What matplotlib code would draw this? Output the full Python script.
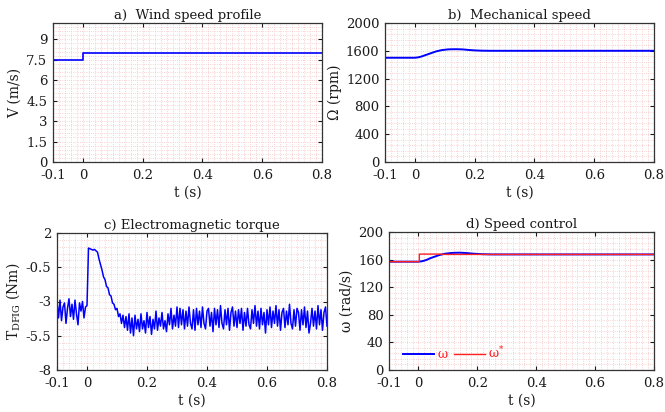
import numpy as np
import matplotlib
matplotlib.use("Agg")
import matplotlib.pyplot as plt
from matplotlib.ticker import MultipleLocator

plt.rcParams['font.family'] = ['DejaVu Serif']
plt.rcParams['mathtext.fontset'] = 'dejavuserif'
plt.rcParams['font.size'] = 9

# ---------------- data ----------------
# a) wind speed profile
t_wind = [-0.1, 0.0, 0.0, 0.8]
v_wind = [7.5, 7.5, 8.0, 8.0]

# b) mechanical speed (rpm)
t_mech = [-0.1, 0.0, 0.01, 0.02, 0.03, 0.04, 0.05, 0.06, 0.07, 0.08, 0.09,
          0.10, 0.11, 0.12, 0.14, 0.16, 0.18, 0.20, 0.22, 0.25, 0.30, 0.80]
omega_rpm = [1500, 1500, 1505, 1515, 1530, 1545, 1560, 1575, 1590, 1600, 1610,
             1615, 1620, 1622, 1623, 1620, 1612, 1606, 1602, 1600, 1600, 1600]

# c) electromagnetic torque (Nm), sampled every 5 ms from -0.1 s to 0.8 s
t_torque_start, t_torque_end, n_torque = -0.1, 0.8, 181
torque = [
    -3.0, -4.2, -2.9, -4.4, -3.4, -3.1, -4.6, -3.5, -2.8, -4.1,
    -3.2, -4.3, -2.9, -3.9, -4.7, -3.1, -3.7, -3.0, -4.2, -3.4,
    -3.3,
    0.9, 0.85, 0.8, 0.75, 0.8, 0.7, 0.6,
    0.1, -0.3, -0.7, -1.2, -1.4, -1.9, -2.0, -2.5, -2.6, -3.1,
    -3.2, -3.6, -3.5, -4.1, -3.9, -4.6, -4.0, -4.9,
    -4.1, -5.1, -3.9, -5.3, -4.2, -5.5, -4.0, -5.0, -4.3, -5.2,
    -3.9, -5.0, -4.4, -5.3, -3.8, -4.9, -4.1, -5.4, -4.3, -5.0,
    -3.7, -5.1, -4.2, -4.8, -3.8, -5.0, -4.4, -5.2, -3.9, -4.7,
    -3.5, -5.0, -4.0, -4.8, -3.4,
    -4.9, -3.5, -4.7, -3.6, -5.0, -3.7, -4.8, -3.4, -4.6, -5.0,
    -3.6, -5.1, -3.5, -4.7, -3.7, -4.9, -3.4, -4.6, -5.0, -3.7,
    -3.5, -4.8, -3.8, -5.2, -3.5, -4.7, -3.6, -4.9, -3.3, -4.6,
    -5.0, -3.6, -4.7, -3.5, -5.1, -3.8, -3.4, -4.8, -3.7, -4.9,
    -3.6, -4.6, -3.5, -5.1, -3.8, -4.8, -3.5, -4.7, -5.0, -3.6,
    -4.6, -3.3, -4.8, -3.7, -5.0, -3.5, -4.7, -3.8, -5.3, -3.6,
    -4.7, -3.4, -4.9, -3.7, -4.6, -3.3, -4.8, -3.6, -5.1, -3.8,
    -3.5, -4.9, -3.7, -4.7, -3.2, -4.6, -5.0, -3.6, -4.8, -3.5,
    -3.8, -5.1, -3.6, -4.7, -3.4, -4.9, -3.7, -5.3, -4.6, -3.5,
    -4.8, -3.7, -5.0, -3.3, -4.7, -3.6, -5.1, -3.8, -3.4, -4.8,
]
t_torque = np.linspace(t_torque_start, t_torque_end, n_torque)

# d) speed control (rad/s)
t_speed = t_mech
omega_rad = [157, 157, 157.5, 158.5, 160, 162, 163.5, 165, 166.5, 167.5, 168.5,
             169, 169.5, 169.8, 170, 169.6, 168.8, 168.2, 167.8, 167.5, 167.5, 167.5]
t_ref = [-0.1, 0.003, 0.003, 0.07, 0.09, 0.8]
omega_ref = [157, 157, 168, 168, 167.5, 167.5]

x_ticks = [-0.1, 0, 0.2, 0.4, 0.6, 0.8]
x_labels = ['-0.1', '0', '0.2', '0.4', '0.6', '0.8']

# ---------------- figure ----------------
fig = plt.figure(figsize=(6.65, 4.12), dpi=100)
W, H = 665, 412

def add_ax(l, t, r, b):
    return fig.add_axes([l / W, 1 - b / H, (r - l) / W, (b - t) / H])

axa = add_ax(53, 23, 322, 162)
axb = add_ax(385, 23, 654, 162)
axc = add_ax(57, 233, 327, 370)
axd = add_ax(389, 232, 654, 370)

txt_col = '#1a1a1a'
grid_col = '#f4c4c4'

def style(ax, yticks, ylabels, yminor, title, ylabel):
    ax.set_xlim(-0.1, 0.8)
    ax.set_ylim(yticks[0], yticks[-1])
    ax.set_xticks(x_ticks)
    ax.set_xticklabels(x_labels)
    ax.set_yticks(yticks)
    ax.set_yticklabels(ylabels)
    ax.xaxis.set_minor_locator(MultipleLocator(0.02))
    ax.yaxis.set_minor_locator(MultipleLocator(yminor))
    ax.grid(True, which='both', color=grid_col, linestyle=':', linewidth=0.6)
    ax.set_axisbelow(True)
    ax.tick_params(which='major', direction='in', length=3, width=0.8,
                   top=True, right=True, labelsize=9.5, colors=txt_col)
    ax.tick_params(axis='x', which='major', pad=5)
    ax.tick_params(axis='y', which='major', pad=4)
    ax.tick_params(which='minor', length=0)
    for s in ax.spines.values():
        s.set_linewidth(0.9)
        s.set_color('#333333')
    ax.set_title(title, fontsize=9.5, color=txt_col, pad=3)
    ax.set_xlabel('t (s)', fontsize=10, color=txt_col, labelpad=3)
    ax.set_ylabel(ylabel, fontsize=10, color=txt_col, labelpad=3)

# a
axa.plot(t_wind, v_wind, color='#0000ff', linewidth=1.2)
style(axa, [0, 1.5, 3, 4.5, 6, 7.5, 9, 10.2],
      ['0', '1.5', '3', '4.5', '6', '7.5', '9', ''], 0.3,
      'a)  Wind speed profile', 'V (m/s)')
axa.yaxis.get_major_ticks()[-1].tick1line.set_visible(False)
axa.yaxis.get_major_ticks()[-1].tick2line.set_visible(False)

# b
axb.plot(t_mech, omega_rpm, color='#0000ff', linewidth=1.4)
style(axb, [0, 400, 800, 1200, 1600, 2000],
      ['0', '400', '800', '1200', '1600', '2000'], 80,
      'b)  Mechanical speed', 'Ω (rpm)')

# c
axc.plot(t_torque, torque, color='#0000ff', linewidth=1.1)
style(axc, [-8, -5.5, -3, -0.5, 2],
      ['-8', '-5.5', '-3', '-0.5', '2'], 0.5,
      'c) Electromagnetic torque', r'T$_{\mathrm{DFIG}}$ (Nm)')

# d
axd.plot(t_speed, omega_rad, color='#0000ff', linewidth=1.4, label='ω')
axd.plot(t_ref, omega_ref, color='#ff2020', linewidth=1.0, label='ω$^{*}$')
style(axd, [0, 40, 80, 120, 160, 200],
      ['0', '40', '80', '120', '160', '200'], 8,
      'd) Speed control', 'ω (rad/s)')
leg = axd.legend(loc='lower left', bbox_to_anchor=(0.02, 0.0), ncol=2,
                 frameon=False, handlelength=2.5, handletextpad=0.25,
                 columnspacing=0.5, fontsize=9, borderaxespad=0.3)
for txt in leg.get_texts():
    txt.set_color('#ff2020')

fig.savefig('out.png', dpi=100)
